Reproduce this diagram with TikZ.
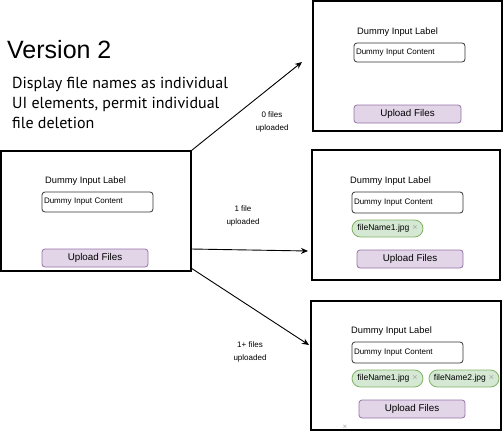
\documentclass[tikz,border=0pt]{standalone}
\usepackage{fontspec}
\setmainfont{Liberation Sans}
\newfontfamily\descfont{PT Sans}
\usepackage{tikz}
\usetikzlibrary{arrows.meta}
\definecolor{btnfill}{HTML}{E1D5E7}
\definecolor{btnline}{HTML}{9673A6}
\definecolor{chipfill}{HTML}{D5E8D4}
\definecolor{chipline}{HTML}{82B366}
\definecolor{fieldline}{HTML}{333333}

\begin{document}
\begin{tikzpicture}[x=1pt,y=-1pt,
    frame/.style={draw=black,line width=1.2pt,minimum width=#1,inner sep=0pt},
    field/.style={draw=fieldline,line width=0.8pt,rounded corners=3pt,minimum width=111pt,minimum height=20pt,
        inner sep=1.5pt,text width=107pt,align=left,font=\fontsize{8}{9}\selectfont},
    lbl/.style={anchor=west,inner sep=0pt,font=\fontsize{9.3}{11}\selectfont},
    btn/.style={draw=btnline,fill=btnfill,line width=0.8pt,rounded corners=3pt,minimum width=106pt,minimum height=18pt,
        inner sep=0pt,font=\fontsize{9.8}{12}\selectfont},
    chip/.style={draw=chipline,fill=chipfill,line width=0.8pt,rounded corners=8.5pt,minimum width=#1,minimum height=17pt,
        inner sep=0pt,font=\fontsize{8.5}{10}\selectfont},
    xmark/.style={text=black!35,font=\fontsize{8}{9}\selectfont},
    arr/.style={black,line width=0.9pt,-{Stealth[length=7pt,width=6pt]}},
    note/.style={align=center,font=\fontsize{8}{12.5}\selectfont}]
\useasboundingbox (0,0) rectangle (504,431);
%% title and description
\node[anchor=base west,inner sep=0pt,font=\fontsize{25}{28}\selectfont] (title) at (7,58) {Version 2};
\node[anchor=north west,inner sep=0pt,align=left,font=\descfont\fontsize{16}{20}\selectfont] (desc) at (12,77)
    {Display file names as individual\\UI elements, permit individual\\file deletion};

%% start screen
\node[frame=190pt,minimum height=120pt] (main) at (96,211) {};
\node[lbl] (mainlabel) at (45,181) {Dummy Input Label};
\node[field] (mainfield) at (97.5,202) {Dummy Input Content};
\node[btn] (mainbtn) at (95,258) {Upload Files};

%% 0 files
\node[frame=189pt,minimum height=130pt] (zero) at (407.5,66) {};
\node[lbl] (zerolabel) at (357,32) {Dummy Input Label};
\node[field,minimum height=19pt] (zerofield) at (409.5,52.5) {Dummy Input Content};
\node[btn,minimum width=107pt] (zerobtn) at (407.5,114) {Upload Files};

%% 1 file
\node[frame=188pt,minimum height=130pt] (one) at (406,215) {};
\node[lbl] (onelabel) at (350,181) {Dummy Input Label};
\node[field,minimum height=21pt] (onefield) at (407.5,202.5) {Dummy Input Content};
\node[chip=71pt] (onechip) at (387.5,228.5) {fileName1.jpg\hspace{3pt}\textcolor{black!35}{\fontsize{9}{10}\selectfont ×}};
\node[btn] (onebtn) at (410,259) {Upload Files};

%% 1+ files
\node[frame=190pt,minimum height=129pt] (many) at (406,365.5) {};
\node[lbl] (manylabel) at (351,331) {Dummy Input Label};
\node[field,minimum height=21pt] (manyfield) at (407.5,352.5) {Dummy Input Content};
\node[chip=71pt] (manychipa) at (387.5,378.5) {fileName1.jpg\hspace{3pt}\textcolor{black!35}{\fontsize{9}{10}\selectfont ×}};
\node[chip=70pt] (manychipb) at (464,378.5) {fileName2.jpg\hspace{3pt}\textcolor{black!35}{\fontsize{9}{10}\selectfont ×}};
\node[btn] (manybtn) at (412,409) {Upload Files};
\node[xmark] (stray) at (345,427) {×};

%% connectors
\coordinate (s2) at (191,249);
\coordinate (s3) at (191,268);
\coordinate (e1) at (302,62);
\coordinate (e2) at (308,251);
\coordinate (e3) at (309,345);
\draw[arr] (main.north east) -- (e1);
\draw[arr] (s2) -- (e2);
\draw[arr] (s3) -- (e3);

\node[note] (zeronote) at (272,122) {0 files\\uploaded};
\node[note] (onenote) at (243,216) {1 file\\uploaded};
\node[note] (manynote) at (250,352) {1+ files\\uploaded};
\end{tikzpicture}
\end{document}
